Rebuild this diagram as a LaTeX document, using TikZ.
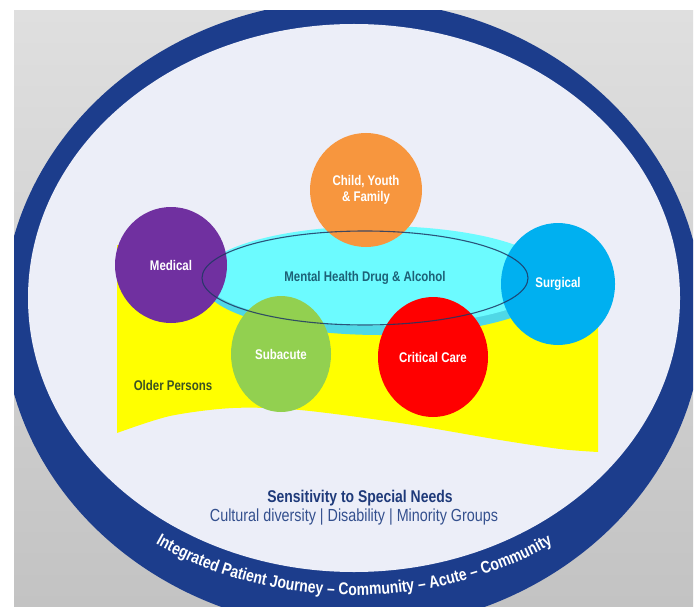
\documentclass[tikz,border=0pt]{standalone}
\usepackage{fontspec}
\setmainfont{Liberation Sans}
\newfontfamily\narrowsans[FakeStretch=0.82]{Liberation Sans}
\usetikzlibrary{shapes.geometric,decorations.text}

\definecolor{panelTop}{HTML}{DFDFDF}
\definecolor{panelBot}{HTML}{C3C3C3}
\definecolor{ringBlue}{HTML}{1C3D8C}
\definecolor{innerFill}{HTML}{ECEEF8}
\definecolor{bandYellow}{HTML}{FFFF00}
\definecolor{cyanRim}{HTML}{4FD8E6}
\definecolor{cyanTop}{HTML}{6CFBFF}
\definecolor{outlineNavy}{HTML}{1F3864}
\definecolor{childOrange}{HTML}{F7963E}
\definecolor{medPurple}{HTML}{7030A0}
\definecolor{surgBlue}{HTML}{00B0F0}
\definecolor{subGreen}{HTML}{92D050}
\definecolor{critRed}{HTML}{FF0000}
\definecolor{mhdaText}{HTML}{1D6177}
\definecolor{olderText}{HTML}{3B5323}
\definecolor{needsNavy}{HTML}{1F3A7A}
\definecolor{needsBlue}{HTML}{34508E}

\begin{document}
\begin{tikzpicture}[x=1pt,y=1pt,
  bubble/.style={ellipse, inner sep=0pt, text=white, align=center,
    font=\narrowsans\bfseries\fontsize{14}{16}\selectfont},
  label/.style={inner sep=0pt, align=center}]

\useasboundingbox (0,0) rectangle (700,606);
\fill[white] (0,0) rectangle (700,606);

% grey backdrop panel
\shade[top color=panelTop, bottom color=panelBot] (14,0) rectangle (693,595);

% outer ring and inner field
\begin{scope}
  \clip (14,0) rectangle (693,595);
  \fill[ringBlue] (353,291) ellipse [x radius=350, y radius=315];
\end{scope}
\fill[innerFill] (354,308) ellipse [x radius=326, y radius=274];

% yellow wave band (Older Persons)
\fill[bandYellow] (117,361) -- (598,326) -- (598,154)
  -- plot[smooth] coordinates {(598,154) (560,157) (500,166) (400,183)
     (300,196) (233,198) (170,190) (117,173)} -- cycle;

% cyan disc (Mental Health Drug & Alcohol)
\fill[cyanRim] (380,323) ellipse [x radius=177, y radius=52];
\fill[cyanTop] (378,330) ellipse [x radius=175, y radius=50];

% service circles
\node[bubble, fill=childOrange, minimum width=112pt, minimum height=114pt]
  (child) at (366,416) {Child, Youth\\\& Family};
\node[bubble, fill=medPurple, minimum width=112pt, minimum height=116pt]
  (medical) at (171,341) {Medical};
\node[bubble, fill=surgBlue, minimum width=114pt, minimum height=122pt]
  (surgical) at (558,322) {Surgical};
\node[bubble, fill=subGreen, minimum width=100pt, minimum height=116pt]
  (subacute) at (281,252) {Subacute};
\node[bubble, fill=critRed, minimum width=110pt, minimum height=120pt]
  (critical) at (433,249) {Critical Care};

% glass rim over the disc
\node[ellipse, draw=outlineNavy, draw opacity=0.85, line width=1.1pt,
  minimum width=326pt, minimum height=94pt, inner sep=0pt,
  text=mhdaText, font=\narrowsans\bfseries\fontsize{14}{16}\selectfont]
  (mhda) at (365,328) {Mental Health Drug \& Alcohol};

\node[label, text=olderText, font=\narrowsans\bfseries\fontsize{14}{16}\selectfont]
  (older) at (173,221) {Older Persons};

% special needs caption
\node[label, text=needsNavy, font=\narrowsans\bfseries\fontsize{17}{19}\selectfont]
  (needs) at (360,108) {Sensitivity to Special Needs};
\node[label, text=needsBlue, font=\narrowsans\fontsize{17.5}{19}\selectfont]
  (groups) at (354,89) {Cultural diversity | Disability | Minority Groups};

% journey text along the lower ring
\path[decorate, decoration={text along path, text align=center,
  text={|\narrowsans\bfseries\fontsize{17}{17}\selectfont\color{white}|Integrated Patient Journey – Community – Acute – Community}}]
  (106.5,95.9) arc[start angle=-135, end angle=-45, x radius=350, y radius=290];

\end{tikzpicture}
\end{document}
